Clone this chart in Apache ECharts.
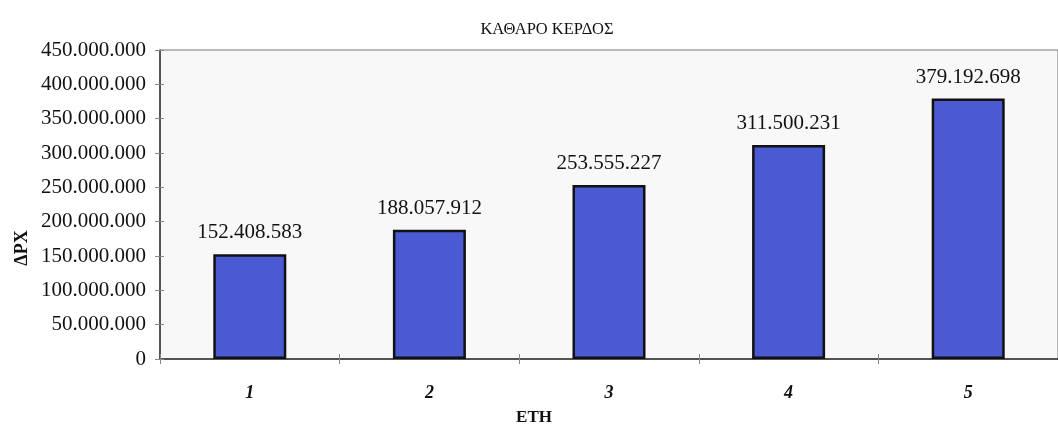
<!DOCTYPE html>
<html>
<head>
<meta charset="utf-8">
<script src="https://cdn.jsdelivr.net/npm/echarts@6/dist/echarts.min.js"></script>
<style>
html,body{margin:0;padding:0;background:#fff;}
#c{width:1058px;height:427px;}
</style>
</head>
<body>
<div id="c"></div>
<script>
const titleText = 'ΚΑΘΑΡΟ ΚΕΡΔΟΣ';
const yAxisTitle = 'ΔΡΧ';
const xAxisTitle = 'ΕΤΗ';
const years = ['1', '2', '3', '4', '5'];
const netProfit = [152408583, 188057912, 253555227, 311500231, 379192698];
const yTicks = [0, 50000000, 100000000, 150000000, 200000000, 250000000, 300000000, 350000000, 400000000, 450000000];

function fmt(v) {
  return String(Math.round(v)).replace(/\B(?=(\d{3})+(?!\d))/g, '.');
}

const FONT = '"Liberation Serif", "Times New Roman", serif';
const chart = echarts.init(document.getElementById('c'), null, {renderer: 'canvas'});
const yMin = yTicks[0], yMax = yTicks[yTicks.length - 1], yStep = yTicks[1] - yTicks[0];

chart.setOption({
  animation: false,
  backgroundColor: '#ffffff',
  grid: {
    left: 160, top: 50, right: -2, bottom: 68,
    show: true, backgroundColor: '#f8f8f8', borderColor: '#777', borderWidth: 1
  },
  graphic: [
    {type: 'text', x: 547, y: 30, style: {text: titleText, font: '16.5px ' + FONT, fill: '#111', textAlign: 'center', textVerticalAlign: 'middle'}},
    {type: 'text', x: 22, y: 248, rotation: Math.PI / 2, style: {text: yAxisTitle, font: 'bold 18px ' + FONT, fill: '#111', textAlign: 'center', textVerticalAlign: 'middle'}},
    {type: 'text', x: 534, y: 418, style: {text: xAxisTitle, font: 'bold 17px ' + FONT, fill: '#111', textAlign: 'center', textVerticalAlign: 'middle'}}
  ],
  xAxis: [{
    type: 'category', data: years,
    axisLine: {show: true, lineStyle: {color: '#333', width: 1.5}},
    axisTick: {show: true, inside: false, length: 5, alignWithLabel: false, lineStyle: {color: '#888'}},
    axisLabel: {margin: 25, fontFamily: FONT, fontSize: 18, fontStyle: 'italic', fontWeight: 'bold', color: '#111'},
    splitLine: {show: false}
  }, {
    type: 'category', data: years, position: 'bottom',
    axisLine: {show: false},
    axisTick: {show: true, inside: true, length: 5, lineStyle: {color: '#888'}},
    axisLabel: {show: false}
  }],
  yAxis: [{
    type: 'value', min: yMin, max: yMax, interval: yStep,
    axisLine: {show: true, lineStyle: {color: '#333', width: 1.5}},
    axisTick: {show: true, inside: false, length: 5, lineStyle: {color: '#888'}},
    axisLabel: {margin: 14, fontFamily: FONT, fontSize: 21, color: '#111', formatter: fmt},
    splitLine: {show: false}
  }, {
    type: 'value', min: yMin, max: yMax, interval: yStep, position: 'left',
    axisLine: {show: false},
    axisTick: {show: true, inside: true, length: 4, lineStyle: {color: '#888'}},
    axisLabel: {show: false},
    splitLine: {show: false}
  }],
  series: [{
    type: 'bar', data: netProfit, barWidth: 73,
    itemStyle: {color: '#4a5ad2', borderColor: '#111', borderWidth: 2.5},
    label: {show: true, position: 'top', distance: 11, fontFamily: FONT, fontSize: 21, color: '#111', formatter: p => fmt(p.value)}
  }]
});
</script>
</body>
</html>
